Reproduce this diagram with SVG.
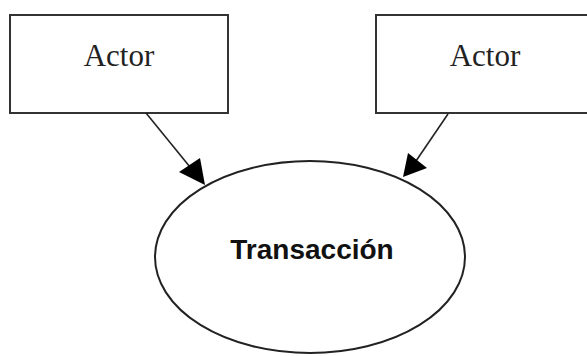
<svg xmlns="http://www.w3.org/2000/svg" width="587" height="356" viewBox="0 0 587 356">
<style>
.box{fill:#fff;stroke:#333;stroke-width:2}
.actor{font-family:"Liberation Serif",serif;font-size:31px;fill:#222;text-anchor:middle}
.edge{stroke:#222;stroke-width:1.6;fill:none}
</style>
<defs>
<marker id="ah" markerWidth="10" markerHeight="10" refX="9" refY="5" orient="auto" markerUnits="userSpaceOnUse" viewBox="0 0 10 10">
<path d="M0,0 L10,5 L0,10 z" fill="#000"/>
</marker>
</defs>
<rect width="587" height="356" fill="#fff"/>
<g id="actor1">
<rect class="box" x="10" y="15" width="218" height="98"/>
<text class="actor" x="119" y="66">Actor</text>
</g>
<g id="actor2">
<rect class="box" x="376" y="15" width="218" height="98"/>
<text class="actor" x="485" y="66">Actor</text>
</g>
<g id="transaccion">
<ellipse cx="310" cy="257" rx="155" ry="96" fill="#fff" stroke="#222" stroke-width="2"/>
<text x="312" y="259" font-family="Liberation Sans,Arial,sans-serif" font-weight="bold" font-size="28" fill="#111" text-anchor="middle">Transacción</text>
</g>
<g id="connectors">
<line class="edge" x1="146" y1="113" x2="190" y2="167"/>
<polygon points="205,185 179,172 200,158" fill="#000"/>
<line class="edge" x1="448" y1="114" x2="416" y2="161"/>
<polygon points="403,177 408,153 427,168" fill="#000"/>
</g>
</svg>
